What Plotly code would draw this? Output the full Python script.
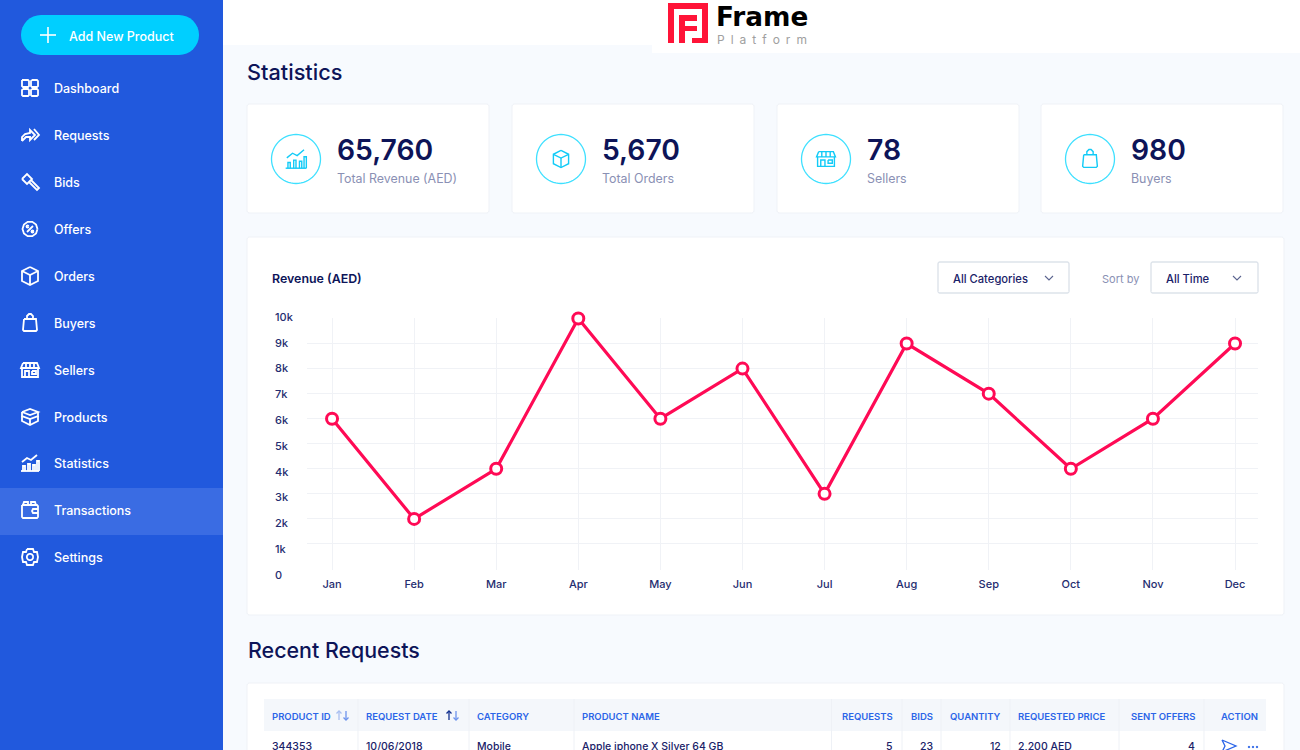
import math
import plotly.graph_objects as go

#############################################
# Data
#############################################

months = ["Jan", "Feb", "Mar", "Apr", "May", "Jun", "Jul", "Aug", "Sep", "Oct", "Nov", "Dec"]
revenue = [6000, 2000, 4000, 10000, 6000, 8000, 3000, 9000, 7000, 4000, 6000, 9000]
y_ticks = [0, 1000, 2000, 3000, 4000, 5000, 6000, 7000, 8000, 9000, 10000]
y_tick_labels = ["0", "1k", "2k", "3k", "4k", "5k", "6k", "7k", "8k", "9k", "10k"]

menu_items = ["Dashboard", "Requests", "Bids", "Offers", "Orders", "Buyers", "Sellers",
              "Products", "Statistics", "Transactions", "Settings"]
stat_values = ["65,760", "5,670", "78", "980"]
stat_labels = ["Total Revenue (AED)", "Total Orders", "Sellers", "Buyers"]
table_headers = ["PRODUCT ID", "REQUEST DATE", "CATEGORY", "PRODUCT NAME", "REQUESTS", "BIDS",
                 "QUANTITY", "REQUESTED PRICE", "SENT OFFERS", "ACTION"]
table_row = ["344353", "10/06/2018", "Mobile", "Apple iphone X Silver 64 GB", "5", "23", "12",
             "2,200 AED", "4"]

#############################################
# Page helpers, everything in screen pixels
#############################################

W, H = 1300, 750
FONT = "Inter"
NAVY = "#0D1458"
shapes = []
annotations = []


def px(x):
    return x / W


def py(y):
    return 1 - y / H


def path(points, close=False):
    d = "M " + " L ".join(f"{px(x):.5f} {py(y):.5f}" for x, y in points)
    return d + " Z" if close else d


def add_path(points, color, width=1.5, fill=None, close=False):
    shapes.append(dict(type="path", xref="paper", yref="paper", path=path(points, close),
                       line=dict(color=color, width=width), fillcolor=fill, layer="below"))


def rect(x0, y0, x1, y1, fill, line=None, width=1):
    shapes.append(dict(type="rect", xref="paper", yref="paper", x0=px(x0), x1=px(x1), y0=py(y0), y1=py(y1),
                       fillcolor=fill, line=dict(color=line or fill, width=width if line else 0), layer="below"))


def round_rect(x0, y0, x1, y1, r, fill, line=None, width=1):
    pts = []
    corners = [(x1 - r, y0 + r, -90), (x1 - r, y1 - r, 0), (x0 + r, y1 - r, 90), (x0 + r, y0 + r, 180)]
    for cx, cy, start in corners:
        for k in range(9):
            a = math.radians(start + k * 90 / 8)
            pts.append((cx + r * math.cos(a), cy + r * math.sin(a)))
    add_path(pts, line or fill, width if line else 0, fill, True)


def ring(cx, cy, r, n=40):
    return [(cx + r * math.cos(2 * math.pi * k / n), cy + r * math.sin(2 * math.pi * k / n)) for k in range(n + 1)]


def text(x, y, s, size, color, weight=400, anchor="left", family=FONT):
    annotations.append(dict(xref="paper", yref="paper", x=px(x), y=py(y), text=s, showarrow=False,
                            xanchor=anchor, yanchor="middle", borderpad=0, borderwidth=0,
                            font=dict(family=family, size=size, color=color, weight=weight)))


# Icons as polylines around their centre, about 18px across
ICONS = {
    "Dashboard": [[(-8, -8), (-2, -8), (-1, -7), (-1, -2), (-2, -1), (-7, -1), (-8, -2), (-8, -8)],
                  [(2, -8), (7, -8), (8, -7), (8, -2), (7, -1), (2, -1), (1, -2), (1, -7), (2, -8)],
                  [(-7, 1), (-2, 1), (-1, 2), (-1, 7), (-2, 8), (-7, 8), (-8, 7), (-8, 2), (-7, 1)],
                  [(2, 1), (7, 1), (8, 2), (8, 7), (7, 8), (2, 8), (1, 7), (1, 2), (2, 1)]],
    "Requests": [[(-8, 6), (-8, 2), (-5, -1), (0, -2), (0, -5), (5, 0), (0, 5), (0, 2), (-4, 2), (-8, 6)],
                 [(4, -6), (9, 0), (4, 5)]],
    "Bids": [[(-8, -3), (-3, -8), (2, -3), (-3, 2), (-8, -3)], [(-1, 0), (7, 8), (9, 6), (1, -2)]],
    "Offers": [ring(0, 0, 7.5, 10), [(-3, 3), (3, -3)], ring(-2.5, -2.5, 1, 8), ring(2.5, 2.5, 1, 8)],
    "Orders": [[(0, -9), (8, -5), (8, 5), (0, 9), (-8, 5), (-8, -5), (0, -9)], [(-8, -5), (0, -1), (8, -5)],
               [(0, -1), (0, 9)]],
    "Buyers": [[(-6, -4), (6, -4), (7, 7), (6, 8), (-6, 8), (-7, 7), (-6, -4)],
               [(-3, -4), (-3, -7), (-1, -9), (1, -9), (3, -7), (3, -4)]],
    "Sellers": [[(-7, -7), (7, -7), (9, -2), (-9, -2), (-7, -7)], [(-8, -2), (-8, 7), (8, 7), (8, -2)],
                [(-5, 7), (-5, 1), (-1, 1), (-1, 7)], [(2, 1), (6, 1), (6, 4), (2, 4), (2, 1)],
                [(-4, -7), (-4, -2)], [(0, -7), (0, -2)], [(4, -7), (4, -2)]],
    "Products": [[(-8, -5), (0, -8), (8, -5), (0, -2), (-8, -5)], [(-8, -5), (-8, -1), (0, 2), (8, -1), (8, -5)],
                 [(-8, -1), (-8, 4), (0, 8), (8, 4), (8, -1)], [(0, 2), (0, 8)]],
    "Statistics": [[(-9, 8), (9, 8)], [(-7, 8), (-7, 3), (-5, 3), (-5, 8)], [(-2, 8), (-2, 1), (0, 1), (0, 8)],
                   [(3, 8), (3, 2), (5, 2), (5, 8)], [(7, 8), (7, -2), (9, -2), (9, 8)],
                   [(-8, -1), (-3, -5), (1, -3), (7, -8)]],
    "Transactions": [[(-8, -5), (7, -5), (8, -4), (8, 7), (7, 8), (-7, 8), (-8, 7), (-8, -5)],
                     [(-7, -5), (-6, -8), (-2, -8), (-2, -5)], [(1, -5), (1, -8), (5, -8), (6, -5)],
                     [(8, -1), (3, -1), (2, 1), (3, 3), (8, 3)]],
    "Settings": [[(-3, -8), (3, -8), (4, -5), (7, -5), (8, 0), (7, 5), (4, 5), (3, 8), (-3, 8), (-4, 5), (-7, 5),
                  (-8, 0), (-7, -5), (-4, -5), (-3, -8)], ring(0, 0, 3.2, 14)],
}


def icon(name, cx, cy, color, width=1.8, scale=1.0):
    for line in ICONS[name]:
        add_path([(cx + a * scale, cy + b * scale) for a, b in line], color, width)


#############################################
# Page background and sidebar
#############################################

rect(0, 0, W, H, "#F7FAFE")
rect(223, 0, W, 45, "#FFFFFF")
rect(652, 45, W, 53, "#FFFFFF")
rect(0, 0, 223, H, "#2159DD")
rect(0, 488, 223, 535, "#3A6CE3")

round_rect(21, 15, 199, 55, 20, "#00CFFF")
add_path([(40, 35), (56, 35)], "#FFFFFF", 1.6)
add_path([(48, 27), (48, 43)], "#FFFFFF", 1.6)
text(69, 36, "Add New Product", 12.5, "#FFFFFF", 500)

menu_y = [88, 135, 182, 229, 276, 323, 370, 417, 463, 510, 557]
for label, y in zip(menu_items, menu_y):
    icon(label, 30, y, "#FFFFFF")
    text(54, y + 0.3, label, 12.5, "#FFFFFF", 500)

#############################################
# Logo
#############################################

LOGO_RED = "#FF1438"
for x0, y0, x1, y1 in [(668, 3, 674, 43), (668, 3, 708, 9), (702, 3, 708, 43), (692, 38, 708, 43),
                       (679, 15, 685, 43), (679, 15, 697, 21), (679, 26, 697, 31)]:
    rect(x0, y0, x1, y1, LOGO_RED)
text(715.5, 17, "Frame", 26.3, "#000000", 700, family="DejaVu Sans")
text(717, 39, "P\u2002l\u2002a\u2002t\u2002f\u2002o\u2002r\u2002m", 12, "#A0A0A0", 400)

#############################################
# Stat cards
#############################################

text(247, 71.8, "Statistics", 21.7, NAVY, 500)
card_x = [(247, 489), (512, 754), (777, 1019), (1041, 1283)]
stat_icons = ["Statistics", "Orders", "Sellers", "Buyers"]
stat_icon_scale = [1.15, 0.95, 1.05, 1.05]
for (x0, x1), value, label, name, scale in zip(card_x, stat_values, stat_labels, stat_icons, stat_icon_scale):
    round_rect(x0, 104, x1, 213, 3, "#FFFFFF", "#EFF2F7", 1)
    add_path(ring(x0 + 49, 159, 24.5, 60), "#3FE0FF", 1.3)
    icon(name, x0 + 49, 159, "#12CBF7", 1.4, scale)
    text(x0 + 89.5, 150, value, 28.3, NAVY, 600)
    text(x0 + 89.5, 178, label, 12.4, "#8A90B4", 400)

#############################################
# Chart card
#############################################

round_rect(247, 237, 1284, 615, 3, "#FFFFFF", "#EFF2F7", 1)
text(272, 278, "Revenue (AED)", 12.4, NAVY, 600)
round_rect(938, 262, 1069, 293, 2, "#FFFFFF", "#DDE3EA", 1.4)
text(953, 279, "All Categories", 11.2, "#1A2268", 500)
add_path([(1045, 276), (1049, 280), (1053, 276)], "#5B648F", 1.1)
text(1102, 279, "Sort by", 11, "#8A90B4", 400)
round_rect(1151, 262, 1258, 293, 2, "#FFFFFF", "#DDE3EA", 1.4)
text(1166, 279, "All Time", 11.2, "#1A2268", 500)
add_path([(1233, 276), (1237, 280), (1241, 276)], "#5B648F", 1.1)

#############################################
# Recent requests table
#############################################

text(248, 649.5, "Recent Requests", 21.4, NAVY, 500)
round_rect(247, 683, 1284, 780, 3, "#FFFFFF", "#EFF2F7", 1)
rect(264, 699, 1266, 731, "#F4F7FB")
for x in [358, 469, 574, 831.5, 902, 941, 1010, 1119, 1204]:
    add_path([(x, 699), (x, H)], "#EEF1F6", 1)

header_x = [(272, "left"), (366, "left"), (477, "left"), (582, "left"), (893, "right"), (933, "right"),
            (1001, "right"), (1018, "left"), (1195, "right"), (1258, "right")]
for label, (x, anchor) in zip(table_headers, header_x):
    text(x, 716, label, 9.5, "#2B65E8", 600, anchor)
for x_up, up_color in [(339, "#A9BFF0"), (449, "#12308F")]:
    add_path([(x_up, 720), (x_up, 711)], up_color, 1.3)
    add_path([(x_up - 2.5, 713.5), (x_up, 711), (x_up + 2.5, 713.5)], up_color, 1.3)
    add_path([(x_up + 7, 711), (x_up + 7, 720)], "#6E94EC", 1.3)
    add_path([(x_up + 4.5, 717.5), (x_up + 7, 720), (x_up + 9.5, 717.5)], "#6E94EC", 1.3)
for value, (x, anchor) in zip(table_row, header_x):
    text(x, 746, value, 10.5, "#1A2268", 500, anchor)
add_path([(1222, 740), (1236, 746), (1222, 752), (1225, 746), (1222, 740)], "#2B65E8", 1.3)
for x in [1249, 1253, 1257]:
    add_path(ring(x, 747, 0.8, 8), "#2B65E8", 1, "#2B65E8", True)

#############################################
# Plot results
#############################################

fig = go.Figure()
fig.add_trace(go.Scatter(
    x=months,
    y=revenue,
    mode="lines+markers",
    line=dict(color="#FF0A55", width=3.2),
    marker=dict(size=11, color="#FFFFFF", line=dict(color="#FF0A55", width=3)),
    cliponaxis=False,
    showlegend=False,
    hoverinfo="skip",
))
# Invisible trace, it only makes plotly draw the y axis that carries the tick labels.
# It gets its own hidden x axis, otherwise the month grid runs over the markers and labels
fig.add_trace(go.Scatter(
    x=[months[0]] * len(y_ticks),
    y=y_ticks,
    xaxis="x2",
    yaxis="y2",
    mode="markers",
    marker=dict(opacity=0),
    showlegend=False,
    hoverinfo="skip",
))

fig.update_layout(
    width=W,
    height=H,
    margin=dict(l=0, r=0, t=0, b=0),
    paper_bgcolor="#F7FAFE",
    plot_bgcolor="rgba(0,0,0,0)",
    showlegend=False,
    shapes=shapes,
    annotations=annotations,
    xaxis=dict(
        domain=[px(307), px(1258)],
        range=[-0.305, 11.28],
        type="category",
        categoryorder="array",
        categoryarray=months,
        showgrid=True,
        gridcolor="#F0F2F6",
        zeroline=False,
        showline=False,
        ticks="outside",
        ticklen=4,
        tickcolor="rgba(0,0,0,0)",
        tickfont=dict(family=FONT, size=11, color="#252D70", weight=500),
    ),
    xaxis2=dict(
        domain=[px(307), px(1258)],
        anchor="y2",
        visible=False,
    ),
    yaxis=dict(
        # one pixel of slack either way, plotly drops grid lines on the very ends of a range
        domain=[py(570), py(317.5)],
        range=[-40, 10040],
        tickvals=y_ticks,
        showticklabels=False,
        showgrid=True,
        gridcolor="#F0F2F6",
        zeroline=False,
        showline=False,
    ),
    # the labels sit on a slightly taller scale than the grid, as in the picture.
    # The wider range keeps the end labels, inside labels are hidden when they reach the domain edge
    yaxis2=dict(
        domain=[py(590.5), py(301.5)],
        range=[-600, 10600],
        anchor="free",
        position=px(271),
        side="left",
        tickmode="array",
        tickvals=y_ticks,
        ticktext=y_tick_labels,
        ticklabelposition="inside",
        showgrid=False,
        zeroline=False,
        showline=False,
        ticks="",
        tickfont=dict(family=FONT, size=11, color="#252D70", weight=500),
    ),
)

fig.write_html("out.html", config=dict(displayModeBar=False),
               post_script="document.body.style.margin='0';document.body.style.overflow='hidden';")
